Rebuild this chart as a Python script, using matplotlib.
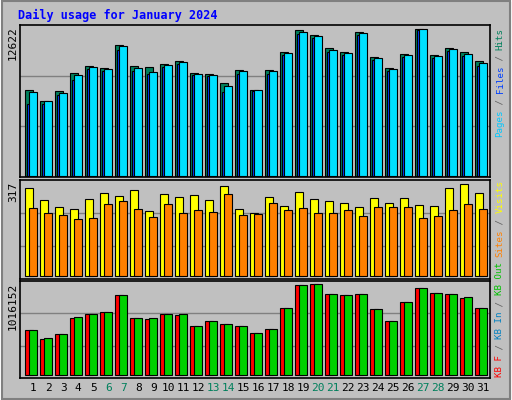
import matplotlib
matplotlib.use("Agg")
import matplotlib.pyplot as plt
from matplotlib.patches import Rectangle
import numpy as np

days = list(range(1, 32))
weekend = [6, 7, 13, 14, 20, 21, 27, 28]
hits = [7402, 6455, 7316, 8894, 9468, 9296, 11275, 9468, 9381, 9668, 9898, 8894, 8808, 8033, 9123, 7402,
        9123, 10672, 12566, 12136, 11017, 10672, 12394, 10242, 9296, 10500, 12622, 10443, 11017, 10672, 9898]
files = [6197, 6197, 6972, 8263, 9209, 9037, 10845, 9037, 8779, 9382, 9640, 8693, 8607, 7230, 8779, 7316,
         8779, 10414, 12222, 11877, 10672, 10414, 12136, 9984, 9037, 10242, 12566, 10156, 10759, 10328, 9468]
pages = [7230, 6455, 7144, 8693, 9382, 9209, 11189, 9296, 8951, 9554, 9812, 8779, 8693, 7746, 9037, 7402,
         9037, 10586, 12394, 12050, 10845, 10586, 12308, 10156, 9209, 10414, 12622, 10328, 10931, 10500, 9726]
visits = [303, 262, 238, 231, 265, 286, 276, 296, 224, 283, 272, 279, 262, 310, 231, 217,
          272, 241, 289, 265, 258, 252, 238, 269, 252, 269, 245, 241, 303, 317, 286]
sites = [234, 217, 210, 196, 200, 248, 258, 231, 203, 248, 217, 227, 221, 283, 210, 214,
         252, 227, 234, 217, 217, 227, 207, 238, 238, 238, 200, 207, 227, 248, 231]
kb_f = [502, 402, 458, 636, 681, 703, 893, 636, 625, 681, 670, 547, 603, 569, 547, 469,
        514, 748, 1005, 1016, 904, 893, 904, 737, 603, 815, 971, 916, 904, 860, 748]
kb_out = [502, 413, 458, 648, 681, 703, 893, 636, 636, 681, 681, 547, 603, 569, 547, 469,
          514, 748, 1005, 1016, 904, 893, 904, 737, 603, 815, 971, 916, 904, 871, 748]
kb_f = [v * 1000 for v in kb_f]
kb_out = [v * 1000 for v in kb_out]
max_labels = ["12622", "317", "1016152"]

W, H = 512, 400
fig = plt.figure(figsize=(W / 100, H / 100), dpi=100)
fig.patch.set_facecolor("#C0C0C0")
fig.add_artist(Rectangle((0, 0), 1, 1, transform=fig.transFigure, fill=False, edgecolor="white", lw=2))
fig.add_artist(Rectangle((0.003, 0.003), 0.994, 0.994, transform=fig.transFigure, fill=False, edgecolor="#808080", lw=1.5))

def ax_at(top, bottom):
    return fig.add_axes([20 / W, 1 - bottom / H, 470 / W, (bottom - top) / H])

x = np.array(days, dtype=float)
bw = 0.55
off = 0.27
mono = "DejaVu Sans Mono"

def style(ax, ymax, lo, hi):
    ax.set_facecolor("#C0C0C0")
    ax.set_xlim(1 - 5 / 15, 1 + 465 / 15)
    ax.set_ylim(-lo * ymax, ymax * hi)
    for f in (1 / 3, 2 / 3):
        ax.axhline(ax.get_ylim()[0] + f * (ax.get_ylim()[1] - ax.get_ylim()[0]), color="#808080", lw=1, zorder=0)
    ax.set_xticks([]); ax.set_yticks([])
    for s in ax.spines.values():
        s.set_color("black"); s.set_linewidth(1.2)

ax1 = ax_at(25, 177)
ax1.bar(x, hits, width=bw, align="edge", color="#00805C", edgecolor="black", lw=0.8)
ax1.bar(x + 0.12, files, width=0.5, align="edge", color="#0040FF", edgecolor="black", lw=0.8)
ax1.bar(x + off, pages, width=bw - 0.03, align="edge", color="#00E0FF", edgecolor="black", lw=0.8)
style(ax1, max(hits), 0.01, 1.03)

ax2 = ax_at(180, 279)
ax2.bar(x, visits, width=bw, align="edge", color="#FFFF00", edgecolor="black", lw=0.8)
ax2.bar(x + off, sites, width=bw - 0.03, align="edge", color="#FF8000", edgecolor="black", lw=0.8)
style(ax2, max(visits), 0.033, 1.045)

ax3 = ax_at(281, 378)
ax3.bar(x, kb_f, width=bw, align="edge", color="#FF0000", edgecolor="black", lw=0.8)
ax3.bar(x + off, kb_out, width=bw - 0.03, align="edge", color="#00D000", edgecolor="black", lw=0.8)
style(ax3, max(kb_f), 0.033, 1.033)

for d in days:
    ax3.text(d + 0.55, -0.1, str(d), transform=ax3.get_xaxis_transform(), ha="center", va="center",
             fontsize=8, family=mono, color="#00805C" if d in weekend else "black")

for lab, ytop in zip(max_labels, [26, 182, 283]):
    fig.text(13 / W, 1 - ytop / H, lab, rotation=90, ha="center", va="top", fontsize=8, family=mono)

fig.text(18 / W, 1 - 15 / H, "Daily usage for January 2024", color="#0000FF", fontsize=8.5,
         fontweight="bold", family=mono, ha="left", va="center")

def vlabel(parts, ybottom):
    step = 5.45
    y = ybottom
    for txt, col in parts:
        fig.text(500 / W, 1 - y / H, txt, rotation=90, ha="center", va="bottom", fontsize=6.6,
                 family=mono, color=col)
        y -= step * len(txt)

gray = "#606060"
vlabel([("Pages", "#00C8FF"), (" / ", gray), ("Files", "#0040FF"), (" / ", gray), ("Hits", "#00805C")], 137)
vlabel([("Sites", "#FF8000"), (" / ", gray), ("Visits", "#FFFF00")], 257)
vlabel([("KB F", "#FF0000"), (" / ", gray), ("KB In", "#0080C0"), (" / ", gray), ("KB Out", "#00C000")], 377)

fig.savefig("out.png", dpi=100, facecolor=fig.get_facecolor())
